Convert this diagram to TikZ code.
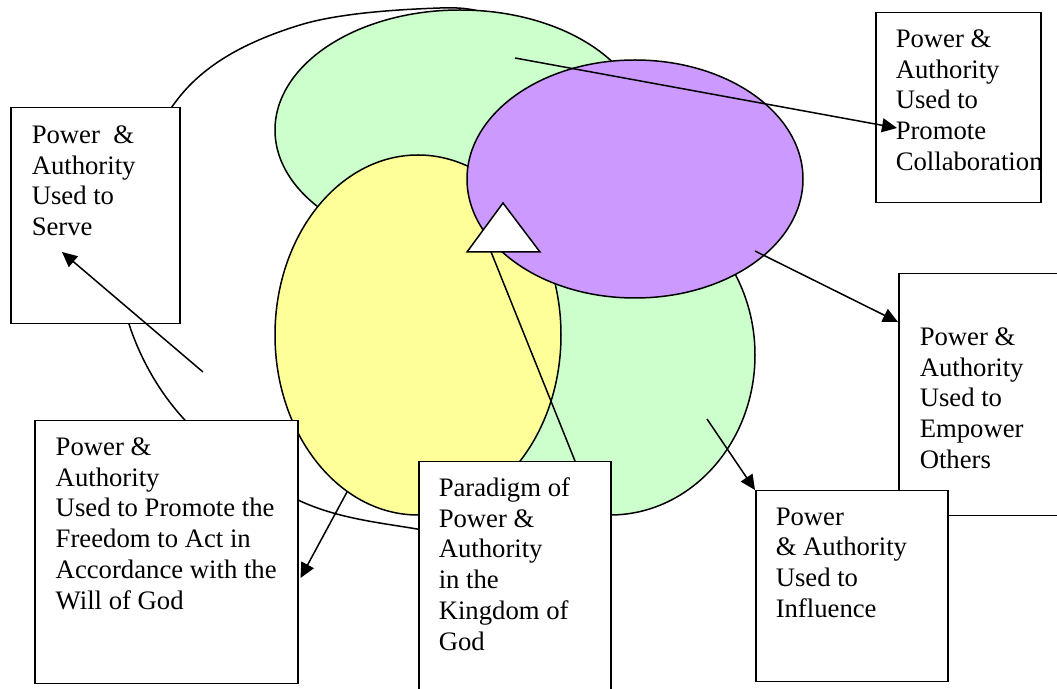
\documentclass[tikz,border=0pt]{standalone}
\usepackage{fontspec}
\setmainfont{Liberation Serif}
\usepackage{tikz}
\usetikzlibrary{shapes, arrows.meta, positioning, calc}

\definecolor{mint}{HTML}{CCFFCC}
\definecolor{lemon}{HTML}{FFFF99}
\definecolor{lilac}{HTML}{CC99FF}

\begin{document}
\begin{tikzpicture}[x=0.5pt, y=-0.5pt, line width=0.75pt,
        box/.style={draw, rectangle, fill=white, anchor=north west, inner sep=0pt},
        txt/.style={anchor=north west, inner sep=0pt, align=left, font=\fontsize{13.35}{15.35}\selectfont},
        arr/.style={-{Triangle[length=7.5pt, width=7pt]}}]
    \clip (0,0) rectangle (1057,689);
    \fill[white] (0,0) rectangle (1057,689);
    % outer ring
    \draw[fill=white] plot[smooth cycle, tension=0.6] coordinates {
        (440,8) (300,25) (190,85) (128,200) (125,310) (183,418) (298,500) (417,529)
        (520,538) (650,480) (725,400) (730,300) (715,200) (650,100) (560,45) (500,18)};
    \draw[fill=mint] (460,130) ellipse [x radius=185, y radius=120];
    \draw[fill=mint] (610,355) ellipse [x radius=145, y radius=160];
    \draw[fill=lemon] (418,335) ellipse [x radius=143, y radius=180];
    \draw[fill=lilac] (635,179) ellipse [x radius=168, y radius=119];
    \coordinate (apex) at (503,203);
    \coordinate (baseL) at (467,252);
    \coordinate (baseR) at (540,252);
    \draw[fill=white] (apex) -- (baseL) -- (baseR) -- cycle;

    \node[box, minimum width=84.5pt, minimum height=108pt] (serve) at (10,107) {};
    \node[txt] (serveT) at ($(serve.north west)+(21,18)$) {Power\ \ \&\\Authority\\Used to\\Serve};
    \node[box, minimum width=82.5pt, minimum height=95pt] (collab) at (875,12) {};
    \node[txt] (collabT) at ($(collab.north west)+(20,17)$) {Power \&\\Authority\\Used to\\Promote\\Collaboration};
    \node[box, minimum width=86pt, minimum height=121pt] (empower) at (898,273) {};
    \node[txt] (empowerT) at ($(empower.north west)+(21,54)$) {Power \&\\Authority\\Used to\\Empower\\Others};
    \node[box, minimum width=131.5pt, minimum height=131.5pt] (freedom) at (34,420) {};
    \node[txt] (freedomT) at ($(freedom.north west)+(21,17)$) {Power \&\\Authority\\Used to Promote the\\Freedom to Act in\\Accordance with the\\Will of God};
    \node[box, minimum width=96pt, minimum height=119.5pt] (paradigm) at (418,461) {};
    \node[txt] (paradigmT) at ($(paradigm.north west)+(20,16)$) {Paradigm of\\Power \&\\Authority\\in the\\Kingdom of\\God};
    \node[box, minimum width=96pt, minimum height=95.5pt] (influence) at (755,490) {};
    \node[txt] (influenceT) at ($(influence.north west)+(20,17)$) {Power\\\& Authority\\Used to\\Influence};

    \coordinate (collabTail) at (515,58);
    \coordinate (empowerTail) at (755,251);
    \coordinate (influenceTail) at (707,419);
    \coordinate (serveTail) at (203,372);
    \coordinate (freedomTail) at (347,492);
    \draw ($(baseL)!0.33!(baseR)$) -- ($(paradigm.north west)+(157,0)$);
    \draw[arr] (collabTail) -- ($(collab.north west)+(22,116)$);
    \draw[arr] (empowerTail) -- ($(empower.north west)+(0,49)$);
    \draw[arr] (influenceTail) -- (influence.north west);
    \draw[arr] (serveTail) -- ($(serve.north west)+(52,145)$);
    \draw[arr] (freedomTail) -- ($(freedom.north east)+(2,158)$);
\end{tikzpicture}
\end{document}
